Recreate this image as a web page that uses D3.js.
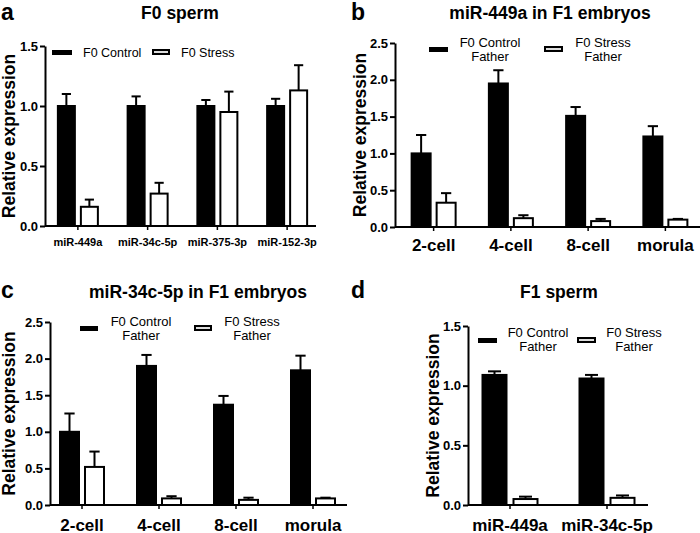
<!DOCTYPE html>
<html><head><meta charset="utf-8">
<script src="https://cdn.jsdelivr.net/npm/d3@7"></script>
<style>body{margin:0;background:#fff}svg{display:block}</style>
</head><body>
<svg id="chart" width="700" height="533"></svg>
<script>
// ---------- DATA ----------
const aCategories = ["miR-449a", "miR-34c-5p", "miR-375-3p", "miR-152-3p"];
const aControl    = [1.00, 1.00, 1.00, 1.00];
const aControlErr = [0.10, 0.08, 0.05, 0.06];
const aStress     = [0.16, 0.27, 0.95, 1.13];
const aStressErr  = [0.06, 0.09, 0.17, 0.21];
const aTicks      = [0, 0.5, 1.0, 1.5];
const aLegend     = [["F0 Control"], ["F0 Stress"]];

const bCategories = ["2-cell", "4-cell", "8-cell", "morula"];
const bControl    = [1.00, 1.95, 1.51, 1.23];
const bControlErr = [0.25, 0.18, 0.12, 0.14];
const bStress     = [0.33, 0.12, 0.08, 0.10];
const bStressErr  = [0.13, 0.04, 0.03, 0.01];
const bTicks      = [0, 0.5, 1.0, 1.5, 2.0, 2.5];

const cCategories = ["2-cell", "4-cell", "8-cell", "morula"];
const cControl    = [1.00, 1.90, 1.37, 1.84];
const cControlErr = [0.25, 0.15, 0.12, 0.20];
const cStress     = [0.52, 0.09, 0.07, 0.09];
const cStressErr  = [0.21, 0.03, 0.03, 0.01];
const cTicks      = [0, 0.5, 1.0, 1.5, 2.0, 2.5];

const dCategories = ["miR-449a", "miR-34c-5p"];
const dControl    = [1.09, 1.06];
const dControlErr = [0.03, 0.03];
const dStress     = [0.05, 0.06];
const dStressErr  = [0.02, 0.02];
const dTicks      = [0, 0.5, 1.0, 1.5];

const fatherLegend = [["F0 Control", "Father"], ["F0 Stress", "Father"]];
const titles = ["F0 sperm", "miR-449a in F1 embryos", "miR-34c-5p in F1 embryos", "F1 sperm"];
const panelLetters = ["a", "b", "c", "d"];
const yLabel = "Relative expression";

// ---------- DRAW ----------
const FONT = "'Liberation Sans', Arial, Helvetica, sans-serif";
const svg = d3.select("#chart");

function panel(cfg) {
  const g = svg.append("g");
  const y = d3.scaleLinear().domain([0, cfg.ticks[cfg.ticks.length - 1]]).range([cfg.y0, cfg.y1]);
  const x = d3.scaleBand().domain(cfg.cats).range(cfg.band).padding(0);

  // letter + title
  g.append("text").attr("x", cfg.letterX + 1).attr("y", cfg.letterY)
    .attr("font-family", FONT).attr("font-weight", "bold").attr("font-size", 23).text(cfg.letter);
  g.append("text").attr("x", cfg.titleX).attr("y", cfg.titleY).attr("text-anchor", "middle")
    .attr("font-family", FONT).attr("font-weight", "bold").attr("font-size", 17.5).text(cfg.title);

  // y label
  g.append("text").attr("transform", `translate(${cfg.ylabX},${(cfg.y0 + cfg.y1) / 2}) rotate(-90)`)
    .attr("text-anchor", "middle").attr("dominant-baseline", "central")
    .attr("font-family", FONT).attr("font-weight", "bold").attr("font-size", 17.5).text(yLabel);

  // bars
  const rows = cfg.cats.map((c, i) => ({c, i}));
  const series = [
    {vals: cfg.control, errs: cfg.controlErr, fill: "#000", off: -cfg.gap / 2 - cfg.barW},
    {vals: cfg.stress, errs: cfg.stressErr, fill: "#fff", off: cfg.gap / 2}
  ];
  series.forEach(s => {
    rows.forEach(r => {
      const cx = x(r.c) + x.bandwidth() / 2 + s.off;
      const top = y(s.vals[r.i]);
      const etop = y(s.vals[r.i] + s.errs[r.i]);
      const mid = cx + cfg.barW / 2;
      const cap = cfg.barW * 0.27;
      g.append("line").attr("x1", mid).attr("x2", mid).attr("y1", top).attr("y2", etop)
        .attr("stroke", "#000").attr("stroke-width", 2);
      g.append("line").attr("x1", mid - cap).attr("x2", mid + cap).attr("y1", etop).attr("y2", etop)
        .attr("stroke", "#000").attr("stroke-width", 2);
      g.append("rect").attr("x", cx).attr("y", top).attr("width", cfg.barW)
        .attr("height", Math.max(0, cfg.y0 - top))
        .attr("fill", s.fill).attr("stroke", "#000").attr("stroke-width", 2);
    });
  });

  // y axis
  const ya = g.append("g").attr("transform", `translate(${cfg.axisX},0)`)
    .call(d3.axisLeft(y).tickValues(cfg.ticks).tickFormat(d3.format(".1f")).tickSize(5).tickSizeOuter(0));
  ya.select(".domain").attr("stroke-width", 2);
  ya.selectAll(".tick line").attr("stroke-width", 2);
  ya.selectAll(".tick text").attr("font-family", FONT).attr("font-weight", "bold")
    .attr("font-size", 13).attr("fill", "#000").attr("x", -7);

  // x axis
  const xa = g.append("g").attr("transform", `translate(0,${cfg.y0})`)
    .call(d3.axisBottom(x).tickSize(4).tickSizeOuter(0));
  xa.select(".domain").attr("d", `M${cfg.axisX},0H${cfg.axisEnd}`).attr("stroke-width", 2);
  xa.selectAll(".tick line").attr("stroke-width", 1.5);
  xa.selectAll(".tick text").attr("font-family", FONT).attr("font-weight", "bold")
    .attr("font-size", cfg.xFont).attr("fill", "#000").attr("y", cfg.xLabDy).attr("dy", 0)
    .attr("dominant-baseline", "central");

  // legend
  cfg.legend.forEach((lab, k) => {
    const L = cfg.leg[k];
    g.append("rect").attr("x", L.rx).attr("y", L.ry).attr("width", L.rw).attr("height", L.rh)
      .attr("fill", k === 0 ? "#000" : "#ddd").attr("stroke", "#000").attr("stroke-width", k === 0 ? 0 : 2);
    const t = g.append("text").attr("font-family", FONT).attr("font-size", cfg.legFont)
      .attr("text-anchor", L.anchor).attr("fill", "#000");
    lab.forEach((line, j) => {
      t.append("tspan").attr("x", L.tx).attr("y", L.ty + j * cfg.legLine).text(line);
    });
  });
}

panel({
  letter: panelLetters[0], letterX: 0, letterY: 20, title: titles[0], titleX: 180, titleY: 19,
  cats: aCategories, control: aControl, controlErr: aControlErr, stress: aStress, stressErr: aStressErr,
  ticks: aTicks, y0: 226, y1: 46, band: [43, 322], axisX: 45, axisEnd: 316, barW: 17, gap: 6,
  ylabX: 9, xFont: 11, xLabDy: 16,
  legend: aLegend, legFont: 12.5, legLine: 14,
  leg: [{rx: 52, ry: 50, rw: 20, rh: 5, tx: 83, ty: 57, anchor: "start"},
        {rx: 153, ry: 50, rw: 16, rh: 4, tx: 181, ty: 57, anchor: "start"}]
});
panel({
  letter: panelLetters[1], letterX: 350, letterY: 20, title: titles[1], titleX: 550, titleY: 19,
  cats: bCategories, control: bControl, controlErr: bControlErr, stress: bStress, stressErr: bStressErr,
  ticks: bTicks, y0: 227, y1: 43, band: [395, 704], axisX: 395, axisEnd: 700, barW: 19, gap: 6,
  ylabX: 360, xFont: 17, xLabDy: 18,
  legend: fatherLegend, legFont: 13, legLine: 14,
  leg: [{rx: 429, ry: 47, rw: 19, rh: 5, tx: 490, ty: 47, anchor: "middle"},
        {rx: 545, ry: 47, rw: 17, rh: 4, tx: 603, ty: 47, anchor: "middle"}]
});
panel({
  letter: panelLetters[2], letterX: 0, letterY: 298, title: titles[2], titleX: 198, titleY: 298,
  cats: cCategories, control: cControl, controlErr: cControlErr, stress: cStress, stressErr: cStressErr,
  ticks: cTicks, y0: 505, y1: 322, band: [43.5, 351.5], axisX: 50, axisEnd: 347, barW: 19, gap: 6,
  ylabX: 9, xFont: 17, xLabDy: 20,
  legend: fatherLegend, legFont: 13, legLine: 14,
  leg: [{rx: 80, ry: 326, rw: 18, rh: 5, tx: 141, ty: 326, anchor: "middle"},
        {rx: 195, ry: 326, rw: 16, rh: 4, tx: 252, ty: 326, anchor: "middle"}]
});
panel({
  letter: panelLetters[3], letterX: 350, letterY: 298, title: titles[3], titleX: 559, titleY: 298,
  cats: dCategories, control: dControl, controlErr: dControlErr, stress: dStress, stressErr: dStressErr,
  ticks: dTicks, y0: 505, y1: 326, band: [461.5, 655.5], axisX: 468, axisEnd: 648, barW: 24, gap: 7,
  ylabX: 433, xFont: 17, xLabDy: 20,
  legend: fatherLegend, legFont: 13, legLine: 14,
  leg: [{rx: 478, ry: 338, rw: 19, rh: 5, tx: 538, ty: 337, anchor: "middle"},
        {rx: 578, ry: 338, rw: 17, rh: 4, tx: 634, ty: 337, anchor: "middle"}]
});
</script>
</body></html>
